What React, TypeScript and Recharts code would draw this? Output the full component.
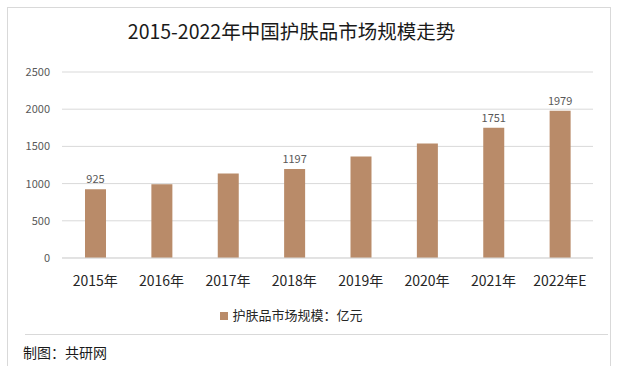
import * as React from "react"
import { Bar, BarChart, CartesianGrid, LabelList, Legend, XAxis, YAxis } from "recharts"

const years = ["2015年", "2016年", "2017年", "2018年", "2019年", "2020年", "2021年", "2022年E"]
const marketSize = [925, 990, 1135, 1197, 1365, 1540, 1751, 1979]
const shownLabels = ["2015年", "2018年", "2021年", "2022年E"]
const yTicks = [0, 500, 1000, 1500, 2000, 2500]

const BAR = "#B98B69"
const GRID = "#D9D9D9"
const TEXT = "#595959"
const FONT = "'Noto Sans CJK SC', 'Noto Sans', sans-serif"

const data = years.map((year, i) => ({
    year,
    value: marketSize[i],
    label: shownLabels.includes(year) ? marketSize[i] : null,
}))

export default function App() {
    return (
        <div
            style={{
                position: "absolute",
                left: 0,
                top: 0,
                width: 618,
                height: 366,
                background: "#fff",
                fontFamily: FONT,
                overflow: "hidden",
            }}
        >
            {/* outer frame */}
            <div
                style={{
                    position: "absolute",
                    left: 7,
                    top: 7,
                    width: 604,
                    height: 370,
                    border: `1px solid ${GRID}`,
                    boxSizing: "border-box",
                }}
            />
            <div
                style={{
                    position: "absolute",
                    left: 25,
                    top: 334,
                    width: 583,
                    height: 1,
                    background: GRID,
                }}
            />
            <div
                style={{
                    position: "absolute",
                    left: 0,
                    width: 583,
                    top: 18,
                    textAlign: "center",
                    fontSize: 19.5,
                    lineHeight: "26px",
                    color: "#1a1a1a",
                }}
            >
                2015-2022年中国护肤品市场规模走势
            </div>
            <div style={{ position: "absolute", left: 0, top: 0 }}>
                <BarChart
                    width={618}
                    height={366}
                    data={data}
                    margin={{ top: 72, right: 25, left: 0, bottom: 41 }}
                >
                    <CartesianGrid stroke={GRID} vertical={false} />
                    <XAxis
                        dataKey="year"
                        axisLine={{ stroke: GRID }}
                        tickLine={false}
                        tick={{ fill: "#262626", fontSize: 14, fontFamily: FONT }}
                        tickMargin={12}
                        height={43}
                        interval={0}
                    />
                    <YAxis
                        domain={[0, 2500]}
                        ticks={yTicks}
                        axisLine={false}
                        tickLine={false}
                        tickSize={0}
                        tickMargin={12}
                        width={62}
                        tick={{ fill: TEXT, fontSize: 11, fontFamily: FONT }}
                    />
                    <Legend
                        verticalAlign="bottom"
                        iconType="square"
                        iconSize={8}
                        formatter={() => (
                            <span style={{ color: "#262626", fontSize: 13 }}>护肤品市场规模：亿元</span>
                        )}
                        wrapperStyle={{ fontFamily: FONT }}
                    />
                    <Bar dataKey="value" name="护肤品市场规模：亿元" fill={BAR} barSize={21} isAnimationActive={false}>
                        <LabelList
                            dataKey="label"
                            position="top"
                            offset={6}
                            style={{ fill: TEXT, fontSize: 11, fontFamily: FONT }}
                        />
                    </Bar>
                </BarChart>
            </div>
            <div
                style={{
                    position: "absolute",
                    left: 23,
                    top: 342,
                    fontSize: 14,
                    lineHeight: "20px",
                    color: "#1a1a1a",
                }}
            >
                制图：共研网
            </div>
        </div>
    )
}
